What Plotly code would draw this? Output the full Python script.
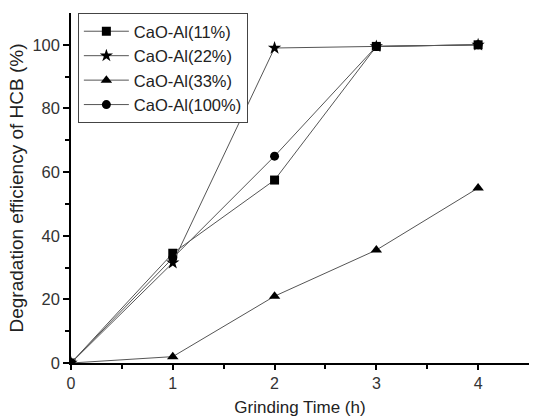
import plotly.graph_objects as go

time_h = [0, 1, 2, 3, 4]
s11 = [0, 34.5, 57.5, 99.5, 100]
s22 = [0, 31.5, 99, 99.5, 100]
s33 = [0, 2, 21, 35.5, 55]
s100 = [0, 33, 65, 99.5, 100]

names = ["CaO-Al(11%)", "CaO-Al(22%)", "CaO-Al(33%)", "CaO-Al(100%)"]
series = [s11, s22, s33, s100]
symbols = ["square", "star", "triangle-up", "circle"]
sizes = [9, 10, 10, 9]

fig = go.Figure()
for n, s, sym, sz in zip(names, series, symbols, sizes):
    fig.add_trace(go.Scatter(
        x=time_h, y=s, name=n, mode="lines+markers",
        line=dict(color="#555555", width=1),
        marker=dict(symbol=sym, size=sz, color="black"),
    ))

fig.update_layout(
    width=538, height=417,
    margin=dict(l=71, r=9, t=13, b=54),
    paper_bgcolor="white", plot_bgcolor="white",
    font=dict(family="Liberation Sans, Arial, sans-serif", size=16, color="#333"),
    showlegend=True,
    legend=dict(
        x=0.015, y=1.0, xanchor="left", yanchor="top",
        bordercolor="#444", borderwidth=1, bgcolor="white",
        font=dict(size=16.5, color="#222"), tracegroupgap=0, itemwidth=45,
    ),
    xaxis=dict(
        range=[0, 4.5], tickvals=[0, 1, 2, 3, 4], automargin=False,
        ticks="outside", ticklen=5, tickwidth=1.5, tickcolor="black",
        showline=True, linecolor="black", linewidth=1.5,
        showgrid=False, zeroline=False,
        minor=dict(tickvals=[0.5, 1.5, 2.5, 3.5], ticks="outside", ticklen=4, tickcolor="black"),
        title=dict(text="Grinding Time (h)", font=dict(size=17, color="#222"), standoff=13),
        tickfont=dict(size=16),
    ),
    yaxis=dict(
        range=[0, 110], tickvals=[0, 20, 40, 60, 80, 100], automargin=False,
        ticks="outside", ticklen=6, tickwidth=1.5, tickcolor="black",
        showline=True, linecolor="black", linewidth=1.5,
        showgrid=False, zeroline=False,
        minor=dict(tickvals=[10, 30, 50, 70, 90], ticks="outside", ticklen=4, tickcolor="black"),
        title=dict(text="Degradation efficiency of HCB (%)", font=dict(size=19, color="#222"), standoff=4),
        tickfont=dict(size=16.5),
    ),
)

fig.write_html(
    "out.html",
    config={"displayModeBar": False},
    post_script="document.body.style.margin='0px';document.body.style.overflow='hidden';",
)
